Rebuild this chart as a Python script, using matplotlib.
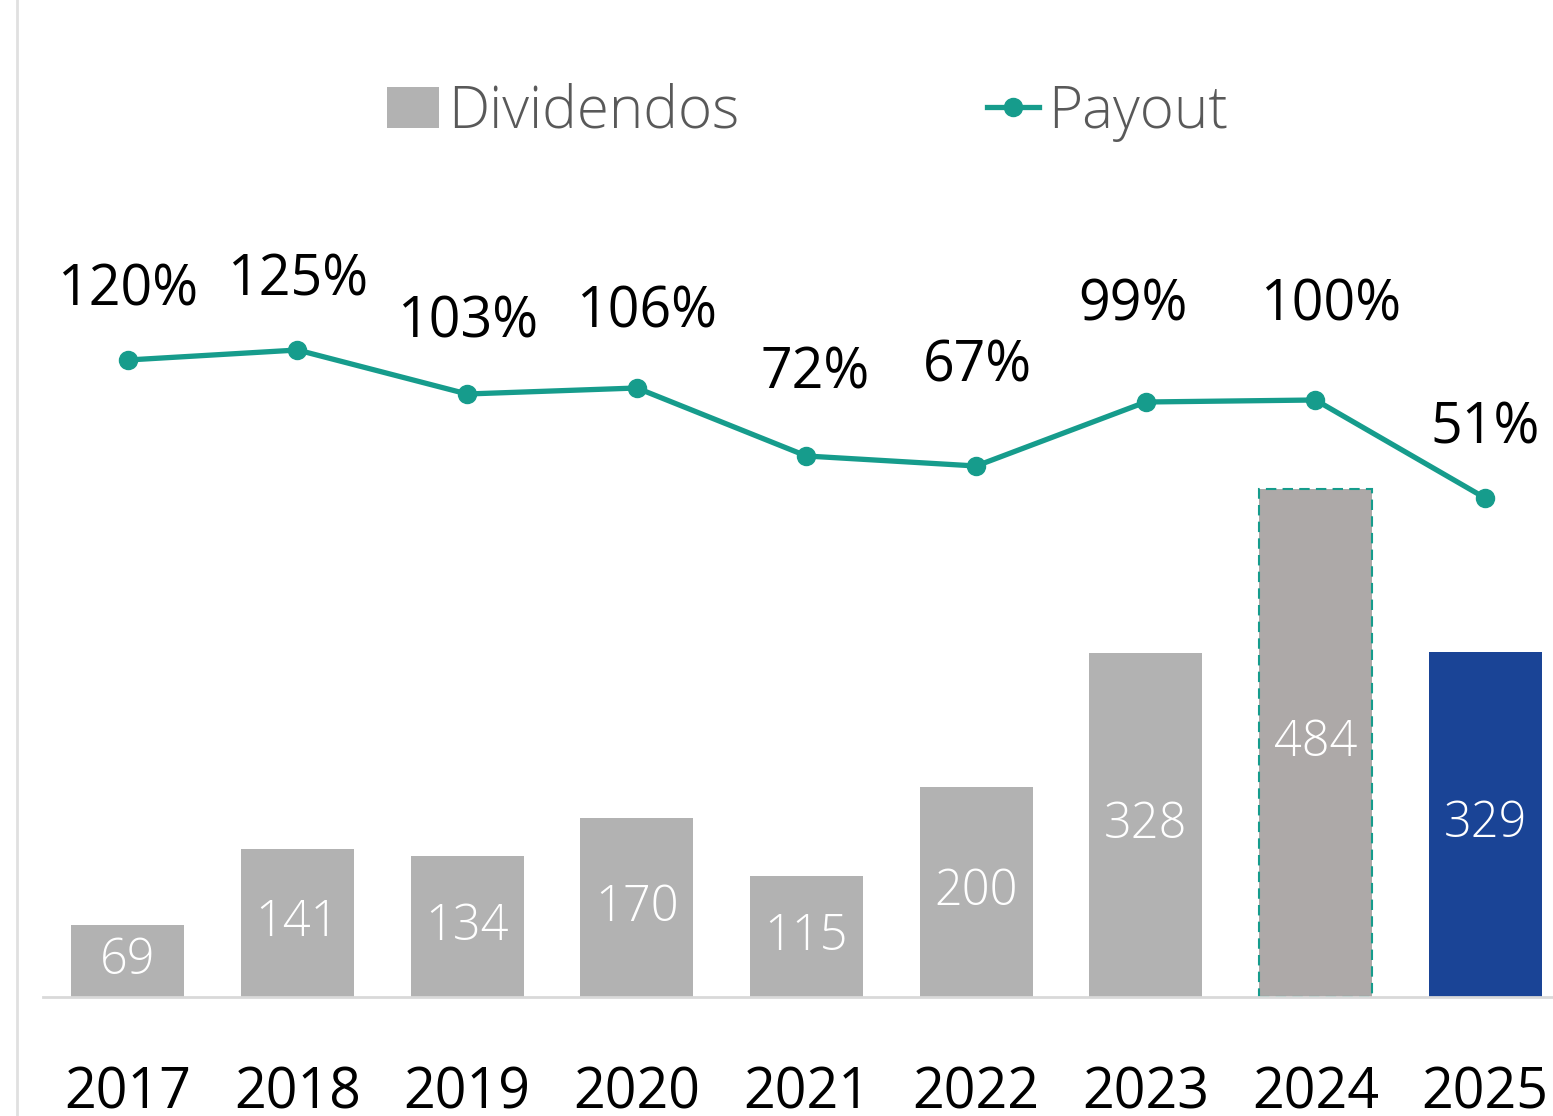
import matplotlib
matplotlib.use("Agg")
import matplotlib.pyplot as plt
from matplotlib.lines import Line2D
from matplotlib.patches import Patch

plt.rcParams['font.family'] = ['Open Sans', 'DejaVu Sans']

years = ["2017", "2018", "2019", "2020", "2021", "2022", "2023", "2024", "2025"]
dividendos = [69, 141, 134, 170, 115, 200, 328, 484, 329]
payout = [120, 125, 103, 106, 72, 67, 99, 100, 51]
payout_labels = ["120%", "125%", "103%", "106%", "72%", "67%", "99%", "100%", "51%"]

# label offsets in points (dx, dy) relative to each payout marker
label_dx = [0, 0, 0, 7, 6, 1, -9, 11, 0]
label_dy = [50, 50, 51, 54, 59, 71, 69, 68, 50]

W, H, DPI = 1553, 1116, 100
fig = plt.figure(figsize=(W / DPI, H / DPI), dpi=DPI)

left_px, right_px, bottom_px, top_px = 43, 1553, 997, 0
ax = fig.add_axes([left_px / W, 1 - bottom_px / H, (right_px - left_px) / W, (bottom_px - top_px) / H])

x = list(range(len(years)))
bar_colors = ["#B2B2B2"] * 7 + ["#ADA9A8", "#1A4496"]
bars = ax.bar(x, dividendos, width=0.667, color=bar_colors, zorder=2)
bars[7].set_edgecolor("#169C8C")
bars[7].set_linestyle((0, (5, 3)))
bars[7].set_linewidth(1.5)

for xi, v in zip(x, dividendos):
    ax.text(xi, v / 2, str(v), ha="center", va="center", color="white",
            fontsize=35, fontweight="light", zorder=3)

ax.set_xlim(-0.5, 8.40)
ax.set_ylim(0, 949.5)
ax.set_xticks(x)
ax.set_xticklabels(years, fontsize=40)
ax.tick_params(axis="x", length=0, pad=49, colors="black")
ax.set_yticks([])
for s in ["top", "right", "left"]:
    ax.spines[s].set_visible(False)
ax.spines["bottom"].set_color("#D9D9D9")
ax.spines["bottom"].set_linewidth(2)
ax.patch.set_alpha(0)

ax2 = ax.twinx()
ax2.set_ylim(-198.5, 300)
ax2.plot(x, payout, color="#169C8C", linewidth=3.8, marker="o", markersize=13, zorder=4)
ax2.set_yticks([])
for s in ax2.spines.values():
    s.set_visible(False)
for xi, v, lab, dx, dy in zip(x, payout, payout_labels, label_dx, label_dy):
    ax2.annotate(lab, (xi, v), xytext=(dx, dy), textcoords="offset points",
                 ha="center", va="center", fontsize=40, color="black")

handles = [Patch(facecolor="#B2B2B2", edgecolor="none"),
           Line2D([0], [0], color="#169C8C", linewidth=3.8, marker="o", markersize=13)]
fig.legend(handles, ["Dividendos", "Payout"], loc="center left",
           bbox_to_anchor=(334 / W, 1 - 112 / H), ncol=2, frameon=False,
           prop={"size": 42, "weight": "light"}, labelcolor="#595959",
           handlelength=0.9, handletextpad=0.15, columnspacing=4.25, handleheight=0.7)

fig.add_artist(Line2D([16.5 / W, 16.5 / W], [0, 1], color="#E0E0E0", linewidth=2,
                      transform=fig.transFigure))

fig.savefig("out.png", dpi=DPI)
